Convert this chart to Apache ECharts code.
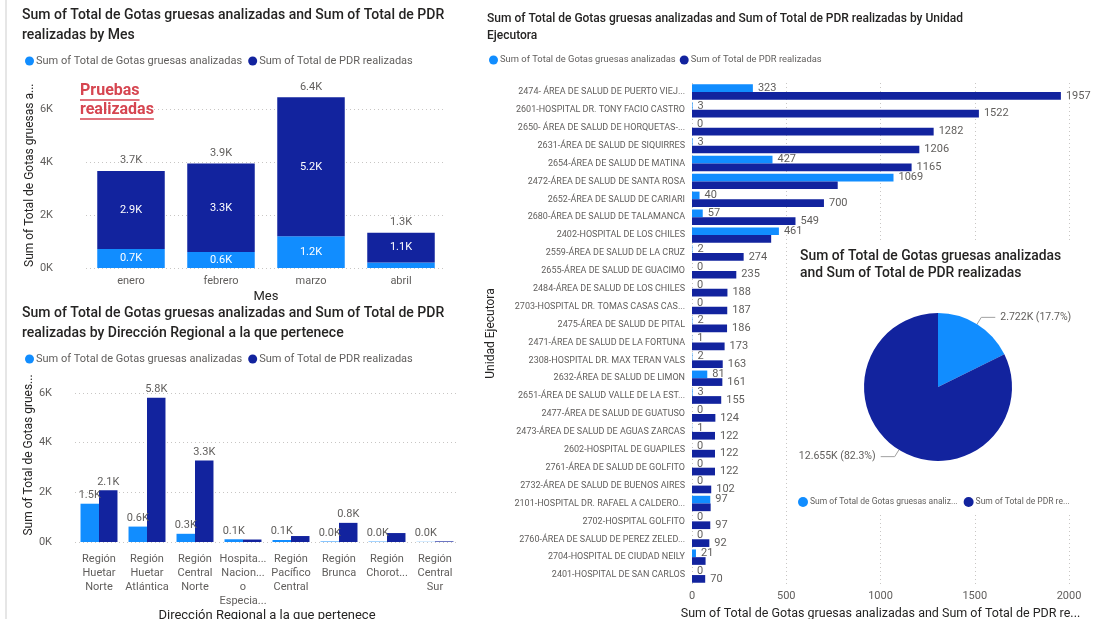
<!DOCTYPE html>
<html>
<head>
<meta charset="utf-8">
<script src="https://cdn.jsdelivr.net/npm/echarts@6/dist/echarts.min.js"></script>
<style>
  html, body { margin: 0; padding: 0; background: #fff; }
  #c { width: 1095px; height: 619px; }
</style>
</head>
<body>
<div id="c"></div>
<script>
// ---- series names ----
const gotasName = 'Sum of Total de Gotas gruesas analizadas';
const pdrName = 'Sum of Total de PDR realizadas';

// ---- by month ----
const months = ['enero', 'febrero', 'marzo', 'abril'];
const monthGotas = [715, 600, 1200, 207];
const monthPdr = [2945, 3345, 5240, 1125];

// ---- by regional direction ----
const regions = [
  'Región\nHuetar\nNorte',
  'Región\nHuetar\nAtlántica',
  'Región\nCentral\nNorte',
  'Hospita...\nNacion...\no\nEspecia...',
  'Región\nPacífico\nCentral',
  'Región\nBrunca',
  'Región\nChorot...',
  'Región\nCentral\nSur'
];
const regionGotas = [1540, 620, 330, 110, 80, 20, 15, 7];
const regionPdr = [2080, 5800, 3280, 100, 240, 770, 360, 25];

// ---- by executing unit ----
const units = [
  '2474- ÁREA DE SALUD DE PUERTO VIEJ...',
  '2601-HOSPITAL DR. TONY FACIO CASTRO',
  '2650- ÁREA DE SALUD DE HORQUETAS-...',
  '2631-ÁREA DE SALUD DE SIQUIRRES',
  '2654-ÁREA DE SALUD DE MATINA',
  '2472-ÁREA DE SALUD DE SANTA ROSA',
  '2652-ÁREA DE SALUD DE CARIARI',
  '2680-ÁREA DE SALUD DE TALAMANCA',
  '2402-HOSPITAL DE LOS CHILES',
  '2559-ÁREA DE SALUD DE LA CRUZ',
  '2655-ÁREA DE SALUD DE GUACIMO',
  '2484-ÁREA DE SALUD DE LOS CHILES',
  '2703-HOSPITAL DR. TOMAS CASAS CAS...',
  '2475-ÁREA DE SALUD DE PITAL',
  '2471-ÁREA DE SALUD DE LA FORTUNA',
  '2308-HOSPITAL DR. MAX TERAN VALS',
  '2632-ÁREA DE SALUD DE LIMON',
  '2651-ÁREA DE SALUD VALLE DE LA EST...',
  '2477-ÁREA DE SALUD DE GUATUSO',
  '2473-ÁREA DE SALUD DE AGUAS ZARCAS',
  '2602-HOSPITAL DE GUAPILES',
  '2761-ÁREA DE SALUD DE GOLFITO',
  '2732-ÁREA DE SALUD DE BUENOS AIRES',
  '2101-HOSPITAL DR. RAFAEL A CALDERO...',
  '2702-HOSPITAL GOLFITO',
  '2760-ÁREA DE SALUD DE PEREZ ZELED...',
  '2704-HOSPITAL DE CIUDAD NEILY',
  '2401-HOSPITAL DE SAN CARLOS'
];
const unitGotas = [323, 3, 0, 3, 427, 1069, 40, 57, 461, 2, 0, 0, 0, 2, 1, 2, 81, 3, 0, 1, 0, 0, 0, 97, 0, 0, 21, 0];
const unitPdr = [1957, 1522, 1282, 1206, 1165, 773, 700, 549, 420, 274, 235, 188, 187, 186, 173, 163, 161, 155, 124, 122, 122, 122, 102, 99, 97, 92, 72, 70];

// ---- styling ----
const LIGHT = '#118DFF';
const DARK = '#12239E';
const RED = '#D64550';
const TXT = '#252423';
const SUB = '#605E5C';
const GRIDC = '#C8C6C4';
const FONT = 'Roboto, "Noto Sans", sans-serif';

const sum = arr => arr.reduce((a, b) => a + b, 0);
const kFmt = v => (v / 1000).toFixed(1) + 'K';
const monthTotals = monthGotas.map((g, i) => g + monthPdr[i]);

const dotted = { lineStyle: { type: [1, 3], color: GRIDC, width: 1 } };

function valueAxis(gridIndex, name, nameGap, labelMargin) {
  return {
    type: 'value', gridIndex, min: 0, max: 7000, interval: 2000,
    axisLine: { show: false }, axisTick: { show: false },
    axisLabel: { color: SUB, fontSize: 11, margin: labelMargin,
      formatter: v => (v / 1000) + 'K', showMaxLabel: false },
    splitLine: Object.assign({ showMaxLine: false }, dotted),
    name, nameLocation: 'middle', nameGap,
    nameTextStyle: { color: TXT, fontSize: 12 }
  };
}

const legendBase = {
  data: [gotasName, pdrName], icon: 'circle', itemWidth: 9, itemHeight: 9,
  itemGap: 6, selectedMode: false,
  textStyle: { color: SUB, fontSize: 11, padding: [0, 0, 0, -3] }
};

// underline widths for the annotation
const ctx = document.createElement('canvas').getContext('2d');
ctx.font = 'bold 16px ' + FONT;
const w1 = ctx.measureText('Pruebas').width;
const w2 = ctx.measureText('realizadas').width;

const titleStyle = (size, lh) => ({ fontSize: size, fontWeight: 500, color: TXT, lineHeight: lh });

const option = {
  animation: false,
  textStyle: { fontFamily: FONT },
  title: [
    {
      left: 17, top: 0,
      text: 'Sum of Total de Gotas gruesas analizadas and Sum of Total de PDR\nrealizadas by Mes',
      textStyle: titleStyle(14, 20)
    },
    {
      left: 17, top: 298,
      text: 'Sum of Total de Gotas gruesas analizadas and Sum of Total de PDR\nrealizadas by Dirección Regional a la que pertenece',
      textStyle: titleStyle(14, 20)
    },
    {
      left: 482, top: 5,
      text: 'Sum of Total de Gotas gruesas analizadas and Sum of Total de PDR realizadas by Unidad\nEjecutora',
      textStyle: titleStyle(12, 17)
    },
    {
      left: 795, top: 243, z: 6,
      text: 'Sum of Total de Gotas gruesas analizadas\nand Sum of Total de PDR realizadas',
      textStyle: titleStyle(13.9, 17)
    }
  ],
  legend: [
    Object.assign({}, legendBase, { left: 20, top: 50.5 }),
    Object.assign({}, legendBase, { left: 20, top: 348.5 }),
    Object.assign({}, legendBase, { left: 484, top: 50.5, itemGap: 4,
      textStyle: { color: SUB, fontSize: 9.4, padding: [0, 0, 0, -3] } }),
    {
      left: 793, top: 492, z: 6, icon: 'circle', itemWidth: 10, itemHeight: 10, itemGap: 6,
      padding: [5, 0, 5, 5], selectedMode: false, data: [gotasName, pdrName],
      textStyle: { color: SUB, fontSize: 8.5, padding: [0, 0, 0, -3] },
      formatter: n => (n === gotasName ? n.slice(0, 36) : n.slice(0, 22)) + '...'
    }
  ],
  grid: [
    { left: 86, right: 649, top: 82.5, bottom: 351, outerBoundsMode: 'none' },
    { left: 75, right: 636, top: 368, bottom: 77, outerBoundsMode: 'none' },
    { left: 692, right: 26, top: 83, bottom: 35, outerBoundsMode: 'none' }
  ],
  xAxis: [
    {
      type: 'category', gridIndex: 0, data: months,
      axisLine: { show: false }, axisTick: { show: false },
      axisLabel: { color: SUB, fontSize: 11, margin: 8 },
      name: 'Mes', nameLocation: 'middle', nameGap: 22,
      nameTextStyle: { color: TXT, fontSize: 13 }
    },
    {
      type: 'category', gridIndex: 1, data: regions,
      axisLine: { show: false }, axisTick: { show: false },
      axisLabel: { color: SUB, fontSize: 11, lineHeight: 14, margin: 10, interval: 0 },
      name: 'Dirección Regional a la que pertenece', nameLocation: 'middle', nameGap: 64,
      nameTextStyle: { color: TXT, fontSize: 13 }
    },
    {
      type: 'value', gridIndex: 2, min: 0, max: 2000, interval: 500,
      axisLine: { show: false }, axisTick: { show: false },
      axisLabel: { color: SUB, fontSize: 11, margin: 7, formatter: v => String(v) },
      splitLine: dotted,
      name: 'Sum of Total de Gotas gruesas analizadas and Sum of Total de PDR re...',
      nameLocation: 'middle', nameGap: 22,
      nameTextStyle: { color: TXT, fontSize: 12.5 }
    }
  ],
  yAxis: [
    valueAxis(0, 'Sum of Total de Gotas gruesas a...', 49, 33),
    valueAxis(1, 'Sum of Total de Gotas grues...', 38, 23),
    {
      type: 'category', gridIndex: 2, data: units, inverse: true,
      axisLine: { show: false }, axisTick: { show: false },
      axisLabel: { color: SUB, fontSize: 9, margin: 7 },
      name: 'Unidad Ejecutora', nameLocation: 'middle', nameGap: 195,
      nameTextStyle: { color: TXT, fontSize: 12 }
    }
  ],
  graphic: [
    { type: 'rect', z: 1, shape: { x: 5, y: 0, width: 2, height: 619 }, style: { fill: '#E6E6E6' } },
    { type: 'rect', z: 1, shape: { x: 789, y: 243, width: 306, height: 272 }, style: { fill: '#ffffff' } },
    { type: 'text', z: 10, x: 80, y: 83, style: { text: 'Pruebas', fill: RED, font: 'bold 16px ' + FONT } },
    { type: 'line', z: 10, shape: { x1: 80, y1: 100, x2: 80 + w1, y2: 100 }, style: { stroke: RED, lineWidth: 1.5 } },
    { type: 'text', z: 10, x: 80, y: 102, style: { text: 'realizadas', fill: RED, font: 'bold 16px ' + FONT } },
    { type: 'line', z: 10, shape: { x1: 80, y1: 119, x2: 80 + w2, y2: 119 }, style: { stroke: RED, lineWidth: 1.5 } }
  ],
  series: [
    // stacked columns by month
    {
      type: 'bar', name: gotasName, xAxisIndex: 0, yAxisIndex: 0, stack: 'mes',
      data: monthGotas, itemStyle: { color: LIGHT }, barCategoryGap: '25%',
      label: { show: true, position: 'inside', color: '#fff', fontSize: 11,
        formatter: p => (p.value >= 400 ? kFmt(p.value) : '') }
    },
    {
      type: 'bar', name: pdrName, xAxisIndex: 0, yAxisIndex: 0, stack: 'mes',
      data: monthPdr, itemStyle: { color: DARK },
      label: { show: true, position: 'inside', color: '#fff', fontSize: 11,
        formatter: p => kFmt(p.value) }
    },
    {
      type: 'bar', name: 'Total', xAxisIndex: 0, yAxisIndex: 0, silent: true,
      data: monthTotals, barGap: '-100%', itemStyle: { color: 'rgba(0,0,0,0)' },
      label: { show: true, position: 'top', distance: 5, color: SUB, fontSize: 11,
        formatter: p => kFmt(p.value) }
    },
    // clustered columns by region
    {
      type: 'bar', name: gotasName, xAxisIndex: 1, yAxisIndex: 1,
      data: regionGotas, itemStyle: { color: LIGHT }, barGap: 0, barCategoryGap: '23%',
      label: { show: true, position: 'top', distance: 3, color: SUB, fontSize: 11,
        formatter: p => kFmt(p.value) }
    },
    {
      type: 'bar', name: pdrName, xAxisIndex: 1, yAxisIndex: 1,
      data: regionPdr, itemStyle: { color: DARK }, barGap: 0,
      label: { show: true, position: 'top', distance: 3, color: SUB, fontSize: 11,
        formatter: p => (p.value >= 500 ? kFmt(p.value) : '') }
    },
    // horizontal bars by unit
    {
      type: 'bar', name: gotasName, xAxisIndex: 2, yAxisIndex: 2,
      data: unitGotas, itemStyle: { color: LIGHT }, barGap: 0, barCategoryGap: '14%',
      label: { show: true, position: 'right', distance: 5, color: SUB, fontSize: 11 }
    },
    {
      type: 'bar', name: pdrName, xAxisIndex: 2, yAxisIndex: 2,
      data: unitPdr, itemStyle: { color: DARK }, barGap: 0,
      label: { show: true, position: 'right', distance: 5, color: SUB, fontSize: 11,
        formatter: p => (p.value - unitGotas[p.dataIndex] < 60 ? '' : String(p.value)) }
    },
    // share of totals
    {
      type: 'pie', z: 3, center: [938, 387], radius: 74, startAngle: 90,
      emphasis: { disabled: true },
      data: [
        { name: gotasName, value: sum(monthGotas), itemStyle: { color: LIGHT } },
        { name: pdrName, value: sum(monthPdr), itemStyle: { color: DARK } }
      ],
      label: { color: SUB, fontSize: 10.5,
        formatter: p => (p.value / 1000).toFixed(3) + 'K (' + p.percent.toFixed(1) + '%)' },
      labelLine: { length: 8, length2: 14, lineStyle: { color: '#A0A0A0', width: 1 } }
    }
  ]
};

const chart = echarts.init(document.getElementById('c'), null, { renderer: 'canvas' });
chart.setOption(option);
</script>
</body>
</html>
